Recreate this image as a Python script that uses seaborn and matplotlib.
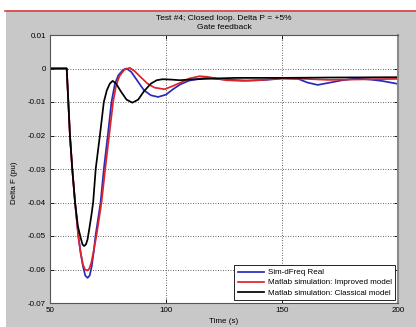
import pandas as pd
import matplotlib
matplotlib.use('Agg')
from matplotlib import pyplot as plt
from matplotlib.patches import Rectangle
from matplotlib.lines import Line2D
import seaborn as sns

# Series (time in s, Delta F in pu)
t_real = [50, 57.2, 57.9, 58.6, 59.6, 60.8, 62.2, 63.2, 64.2, 65.2, 66.2, 67.1, 68.0, 68.8,
          69.6, 71.8, 73.2, 74.9, 76.5, 78.0, 79.5, 81.5, 83.0, 85.0, 87.5, 90.5, 93.5,
          96.6, 100, 103, 106, 110, 117, 125, 135, 143, 150, 157, 161, 165.4, 170, 176,
          182, 188, 193, 200]
f_real = [0, 0, -0.010, -0.020, -0.030, -0.040, -0.050, -0.055, -0.059, -0.0618, -0.0625,
          -0.0618, -0.059, -0.055, -0.050, -0.040, -0.030, -0.020, -0.010, -0.0045, -0.002,
          -0.0004, 0.0, -0.001, -0.0035, -0.0065, -0.008, -0.0085, -0.0078, -0.0062,
          -0.0048, -0.0036, -0.0028, -0.0033, -0.0036, -0.0034, -0.0030, -0.0031, -0.0042,
          -0.0049, -0.0043, -0.0035, -0.0030, -0.0033, -0.0037, -0.0046]

t_improved = [50, 57.2, 57.9, 58.6, 59.6, 60.8, 62.2, 63.2, 64.2, 65.1, 66.0, 66.9, 67.8,
              68.8, 70.0, 72.2, 73.8, 75.5, 77.2, 78.5, 80.0, 82.0, 84.4, 86.5, 89.0, 92.0,
              95.0, 99.4, 103, 106, 110, 114.5, 118, 126, 133, 140, 150, 160, 170, 180, 190,
              200]
f_improved = [0, 0, -0.010, -0.020, -0.030, -0.040, -0.050, -0.055, -0.0585, -0.0600,
              -0.0603, -0.0598, -0.058, -0.0545, -0.050, -0.040, -0.030, -0.020, -0.010,
              -0.005, -0.0022, -0.0004, 0.0002, -0.0008, -0.0025, -0.0045, -0.0057, -0.0062,
              -0.0052, -0.0043, -0.0030, -0.0023, -0.0025, -0.0035, -0.0037, -0.0035,
              -0.0029, -0.0031, -0.0034, -0.0033, -0.0032, -0.0031]

t_classical = [50, 57.2, 57.9, 58.6, 59.6, 60.8, 62.0, 63.2, 64.0, 64.7, 65.5, 66.2, 66.9,
               67.8, 68.6, 69.7, 71.5, 73.2, 74.5, 75.8, 77.0, 78.5, 80.5, 83.0, 85.5, 88.0,
               90.5, 93.5, 96.0, 98.5, 102, 106, 110, 120, 130, 150, 170, 200]
f_classical = [0, 0, -0.010, -0.020, -0.030, -0.040, -0.047, -0.0505, -0.0525, -0.0530,
               -0.0525, -0.0510, -0.048, -0.044, -0.040, -0.030, -0.020, -0.010, -0.0065,
               -0.0045, -0.0037, -0.0045, -0.0068, -0.0093, -0.0102, -0.0093, -0.0068,
               -0.0045, -0.0035, -0.0032, -0.0033, -0.0035, -0.0033, -0.0030, -0.0028,
               -0.0028, -0.0027, -0.0026]

labels = ['Sim-dFreq Real', 'Matlab simulation: Improved model',
          'Matlab simulation: Classical model']
colors = ['#2a2ab8', '#e0222a', '#000000']

x_ticks = [50, 100, 150, 200]
y_ticks = [0.01, 0, -0.01, -0.02, -0.03, -0.04, -0.05, -0.06, -0.07]
y_tick_labels = ['0.01', '0', '-0.01', '-0.02', '-0.03', '-0.04', '-0.05', '-0.06', '-0.07']

# long-form table for seaborn
df = pd.concat([
    pd.DataFrame({'t': t_real, 'f': f_real, 'series': labels[0]}),
    pd.DataFrame({'t': t_improved, 'f': f_improved, 'series': labels[1]}),
    pd.DataFrame({'t': t_classical, 'f': f_classical, 'series': labels[2]}),
], ignore_index=True)

plt.rcParams['font.family'] = ['Liberation Sans', 'DejaVu Sans']

fig = plt.figure(figsize=(4.16, 3.27), dpi=100, facecolor='#c8c8c8')
# white margins + red line like the screenshot frame
fig.patches.append(Rectangle((0, 1 - 10 / 327), 1, 10 / 327, transform=fig.transFigure,
                             facecolor='white', edgecolor='none', zorder=0))
fig.patches.append(Rectangle((0, 0), 6 / 416, 1, transform=fig.transFigure,
                             facecolor='white', edgecolor='none', zorder=0))
fig.lines.append(Line2D([5 / 416, 1], [1 - 10.5 / 327, 1 - 10.5 / 327],
                        transform=fig.transFigure, color='#e04040', lw=1.2))

ax = fig.add_axes([50 / 416, 1 - 303 / 327, 348 / 416, 268 / 327])
ax.set_facecolor('white')

sns.lineplot(data=df, x='t', y='f', hue='series', hue_order=labels,
             palette=dict(zip(labels, colors)), estimator=None, sort=False,
             linewidth=1.25, ax=ax)

ax.set_xlim(50, 200)
ax.set_ylim(-0.07, 0.01)
ax.set_xticks(x_ticks)
ax.set_yticks(y_ticks)
ax.set_yticklabels(y_tick_labels)
ax.tick_params(direction='in', length=3, labelsize=5.8, width=0.6,
               top=True, right=True, pad=3)
ax.grid(True, linestyle=(0, (1, 2)), color='#303030', linewidth=0.6)
for s in ax.spines.values():
    s.set_color('#555555')
    s.set_linewidth(0.8)
ax.spines['right'].set_linewidth(1.5)
ax.spines['right'].set_color('#8a8a8a')

ax.set_title('Test #4; Closed loop. Delta P = +5%\nGate feedback', fontsize=6,
             pad=4, linespacing=1.5)
ax.set_xlabel('Time (s)', fontsize=5.8, labelpad=3)
ax.set_ylabel('Delta F (pu)', fontsize=5.8)
ax.yaxis.set_label_coords(-0.092, 0.45)

leg = ax.legend(loc='lower right', fontsize=5.8, fancybox=False, edgecolor='black',
                framealpha=1, handlelength=3.2, borderaxespad=0.35, labelspacing=0.3,
                borderpad=0.45, handletextpad=0.5)
leg.get_frame().set_linewidth(0.6)

plt.savefig('out.png', dpi=100, facecolor=fig.get_facecolor())
